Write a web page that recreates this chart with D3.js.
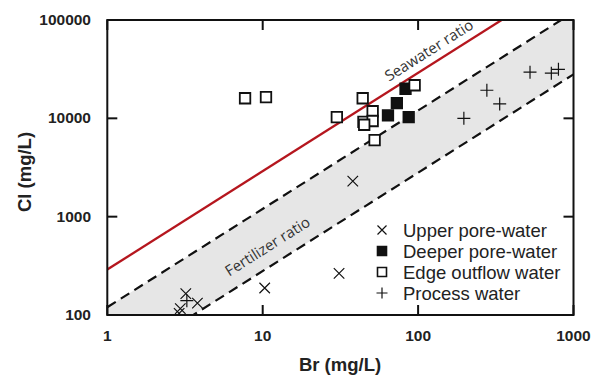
<!DOCTYPE html>
<html>
<head>
<meta charset="utf-8">
<script src="https://cdn.jsdelivr.net/npm/d3@7"></script>
<style>
  html, body { margin: 0; padding: 0; background: #fff; }
  svg { display: block; }
</style>
</head>
<body>
<svg id="chart" width="595" height="377"></svg>
<script>
// Cl vs Br cross-plot, log-log, with seawater / fertilizer ratio lines

// data (Br, Cl in mg/L)
const upperPore = [[3.2, 165], [3.8, 132], [2.95, 116], [2.9, 104], [10.3, 188], [31, 265], [38, 2300]];
const deeperPore = [[83, 20000], [73, 14300], [64, 10700], [87, 10300]];
const edgeOutflow = [[7.7, 16000], [10.5, 16400], [30, 10300], [44, 16000], [95, 21700],
  [51, 11800], [44.5, 9200], [51, 9400], [45, 8600], [52.5, 6000]];
const processWater = [[525, 29500], [720, 28800], [800, 31500], [277, 19300], [335, 14000], [197, 10000], [3.25, 140]];

const xTicks = [1, 10, 100, 1000];
const yTicks = [100, 1000, 10000, 100000];
const seawaterRatio = 290;
const fertilizerRatios = [120, 28];
const legendLabels = ['Upper pore-water', 'Deeper pore-water', 'Edge outflow water', 'Process water'];

const svg = d3.select('#chart');
const L = 107.3, R = 573.5, T = 20, B = 315;

const x = d3.scaleLog().domain([1, 1000]).range([L, R]);
const y = d3.scaleLog().domain([100, 100000]).range([B, T]);

svg.append('clipPath').attr('id', 'plot-clip')
  .append('rect').attr('x', L).attr('y', T).attr('width', R - L).attr('height', B - T);

const plot = svg.append('g').attr('clip-path', 'url(#plot-clip)');

// fertilizer band
const [hi, lo] = fertilizerRatios;
const band = [[1, hi], [1000, hi * 1000], [1000, lo * 1000], [1, lo]];
plot.append('path')
  .attr('d', d3.line().x(d => x(d[0])).y(d => y(d[1]))(band) + 'Z')
  .attr('fill', '#e6e6e6');

fertilizerRatios.forEach(r => {
  plot.append('line')
    .attr('x1', x(1)).attr('y1', y(r))
    .attr('x2', x(1000)).attr('y2', y(r * 1000))
    .attr('stroke', '#111').attr('stroke-width', 2.2)
    .attr('stroke-dasharray', '10,6');
});

plot.append('line')
  .attr('x1', x(1)).attr('y1', y(seawaterRatio))
  .attr('x2', x(1000)).attr('y2', y(seawaterRatio * 1000))
  .attr('stroke', '#b5161e').attr('stroke-width', 2.3);

// angle of a 1:1 line in pixel space
const ang = Math.atan2(y(1000) - y(100), x(10) - x(1)) * 180 / Math.PI;

svg.append('text')
  .attr('transform', `translate(${x(65)},${y(23500)}) rotate(${ang})`)
  .attr('font-family', '"Open Sans", sans-serif').attr('font-size', 15)
  .attr('fill', '#333').text('Seawater ratio');

svg.append('text')
  .attr('transform', `translate(${x(6.1)},${y(245)}) rotate(${ang})`)
  .attr('font-family', '"Open Sans", sans-serif').attr('font-size', 15)
  .attr('fill', '#333').text('Fertilizer ratio');

// markers
function markerPath(type, s) {
  const h = s / 2;
  if (type === 'x') return `M${-h},${-h}L${h},${h}M${-h},${h}L${h},${-h}`;
  if (type === '+') return `M${-h},0L${h},0M0,${-h}L0,${h}`;
  return `M${-h},${-h}H${h}V${h}H${-h}Z`;
}

const series = [
  { data: upperPore, type: 'x', fill: 'none', size: 10.5 },
  { data: deeperPore, type: 'sq', fill: '#111', size: 10.5 },
  { data: edgeOutflow, type: 'sq', fill: '#fff', size: 10.5 },
  { data: processWater, type: '+', fill: 'none', size: 13 }
];

series.forEach(s => {
  plot.append('g').selectAll('path')
    .data(s.data).enter().append('path')
    .attr('transform', d => `translate(${x(d[0])},${y(d[1])})`)
    .attr('d', markerPath(s.type, s.size))
    .attr('fill', s.fill)
    .attr('stroke', '#111')
    .attr('stroke-width', s.type === 'sq' ? 1.8 : 1.2);
});

// frame + inward ticks
svg.append('rect').attr('x', L).attr('y', T).attr('width', R - L).attr('height', B - T)
  .attr('fill', 'none').attr('stroke', '#111').attr('stroke-width', 2);

const tk = 10;
const axes = svg.append('g').attr('stroke', '#111').attr('stroke-width', 2);
xTicks.forEach(t => {
  axes.append('line').attr('x1', x(t)).attr('x2', x(t)).attr('y1', B).attr('y2', B - tk);
  axes.append('line').attr('x1', x(t)).attr('x2', x(t)).attr('y1', T).attr('y2', T + tk);
});
yTicks.forEach(t => {
  axes.append('line').attr('y1', y(t)).attr('y2', y(t)).attr('x1', L).attr('x2', L + tk);
  axes.append('line').attr('y1', y(t)).attr('y2', y(t)).attr('x1', R).attr('x2', R - tk);
});

const lab = svg.append('g')
  .attr('font-family', '"Liberation Sans", Arial, sans-serif')
  .attr('font-weight', 'bold').attr('fill', '#222');

lab.selectAll('.xt').data(xTicks).enter().append('text')
  .attr('x', d => x(d)).attr('y', 341).attr('text-anchor', 'middle')
  .attr('font-size', 15.5).text(d => d);

lab.selectAll('.yt').data(yTicks).enter().append('text')
  .attr('x', 91).attr('y', d => y(d) + 5).attr('text-anchor', 'end')
  .attr('font-size', 15.5).text(d => d);

lab.append('text').attr('x', 340).attr('y', 371).attr('text-anchor', 'middle')
  .attr('font-size', 18.5).text('Br (mg/L)');

lab.append('text').attr('transform', 'translate(31,172) rotate(-90)')
  .attr('text-anchor', 'middle').attr('font-size', 18.5).text('Cl (mg/L)');

// legend
const leg = svg.append('g').attr('transform', 'translate(382,230)');
legendLabels.forEach((name, i) => {
  const s = series[i];
  const g = leg.append('g').attr('transform', `translate(0,${i * 21})`);
  g.append('path')
    .attr('d', markerPath(s.type, s.type === '+' ? 11 : 9))
    .attr('fill', s.fill).attr('stroke', '#111')
    .attr('stroke-width', s.type === 'sq' ? 1.6 : 1.2);
  g.append('text').attr('x', 21).attr('y', 6.5)
    .attr('font-family', '"Liberation Sans", Arial, sans-serif')
    .attr('font-size', 18.5).attr('fill', '#222').text(name);
});
</script>
</body>
</html>
